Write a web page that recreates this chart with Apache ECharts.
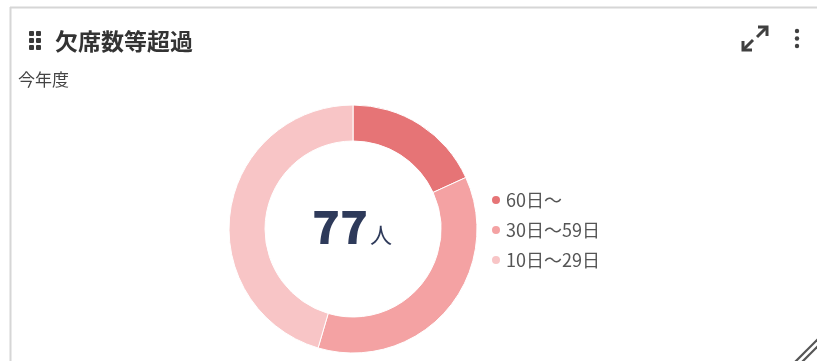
<!DOCTYPE html>
<html>
<head>
<meta charset="utf-8">
<script src="https://cdn.jsdelivr.net/npm/echarts@6/dist/echarts.min.js"></script>
<style>
  html, body { margin: 0; padding: 0; background: #fff; }
  #chart { width: 817px; height: 361px; }
</style>
</head>
<body>
<div id="chart"></div>
<script>
// Absence bands and headcounts for the current school year
const categories = ['60日～', '30日～59日', '10日～29日'];
const counts = [14, 28, 35];
const colors = ['#e67476', '#f4a2a3', '#f8c5c6'];

const titleText = '欠席数等超過';
const periodText = '今年度';
const unitText = '人';

const total = counts.reduce((a, b) => a + b, 0);
const FONT = '"Noto Sans CJK JP", "Noto Sans", sans-serif';

const chart = echarts.init(document.getElementById('chart'), null, { renderer: 'canvas' });

// small drag-handle dots next to the card title
const gripDots = [];
for (let r = 0; r < 3; r++) {
  for (let c = 0; c < 2; c++) {
    gripDots.push({
      type: 'rect',
      shape: { x: 29 + c * 7, y: 31 + r * 7, width: 5, height: 5, r: 1 },
      style: { fill: '#3a3a3a' }
    });
  }
}

chart.setOption({
  backgroundColor: '#ffffff',
  animation: false,
  color: colors,
  title: {
    text: titleText,
    left: 50,
    top: 25,
    textStyle: { fontFamily: FONT, fontSize: 23, fontWeight: 'bold', color: '#333333' }
  },
  legend: {
    orient: 'vertical',
    left: 485,
    top: 186,
    icon: 'circle',
    itemWidth: 10,
    itemHeight: 10,
    itemGap: 12,
    data: categories,
    textStyle: { fontFamily: FONT, fontSize: 18, color: '#555555', lineHeight: 18 }
  },
  graphic: [
    // card outline
    { type: 'line', shape: { x1: 10, y1: 7.5, x2: 817, y2: 7.5 }, style: { stroke: '#d6d6d6', lineWidth: 2 } },
    { type: 'line', shape: { x1: 10.5, y1: 7, x2: 10.5, y2: 361 }, style: { stroke: '#d6d6d6', lineWidth: 2 } },
    ...gripDots,
    {
      type: 'text',
      left: 18,
      top: 71,
      style: { text: periodText, fontFamily: FONT, fontSize: 17, fill: '#444444' }
    },
    // expand icon
    { type: 'polyline', shape: { points: [[743, 50], [753, 40]] }, style: { stroke: '#404040', lineWidth: 3 } },
    { type: 'polyline', shape: { points: [[743, 41], [743, 50], [752, 50]] }, style: { stroke: '#404040', lineWidth: 3, fill: null } },
    { type: 'polyline', shape: { points: [[757, 37], [767, 27]] }, style: { stroke: '#404040', lineWidth: 3 } },
    { type: 'polyline', shape: { points: [[758, 27], [767, 27], [767, 36]] }, style: { stroke: '#404040', lineWidth: 3, fill: null } },
    // overflow menu dots
    { type: 'circle', shape: { cx: 797, cy: 31, r: 2.2 }, style: { fill: '#404040' } },
    { type: 'circle', shape: { cx: 797, cy: 38.5, r: 2.2 }, style: { fill: '#404040' } },
    { type: 'circle', shape: { cx: 797, cy: 46, r: 2.2 }, style: { fill: '#404040' } },
    // resize handle
    { type: 'line', shape: { x1: 795, y1: 362, x2: 818, y2: 339 }, style: { stroke: '#555555', lineWidth: 2.2 } },
    { type: 'line', shape: { x1: 802, y1: 362, x2: 818, y2: 346 }, style: { stroke: '#555555', lineWidth: 2.2 } },
    // total in the middle of the ring
    {
      type: 'text',
      x: 368,
      y: 227,
      style: {
        text: String(total),
        align: 'right',
        verticalAlign: 'middle',
        fontFamily: FONT,
        fontSize: 46,
        fontWeight: 900,
        fill: '#2e3a5a'
      }
    },
    {
      type: 'text',
      x: 370,
      y: 235,
      style: {
        text: unitText,
        align: 'left',
        verticalAlign: 'middle',
        fontFamily: FONT,
        fontSize: 22,
        fill: '#2e3a5a'
      }
    }
  ],
  series: [{
    type: 'pie',
    center: [353, 229],
    radius: [88, 124],
    startAngle: 90,
    clockwise: true,
    label: { show: false },
    labelLine: { show: false },
    emphasis: { disabled: true },
    itemStyle: { borderColor: '#ffffff', borderWidth: 1 },
    data: categories.map((name, i) => ({ name, value: counts[i] }))
  }]
});
</script>
</body>
</html>
